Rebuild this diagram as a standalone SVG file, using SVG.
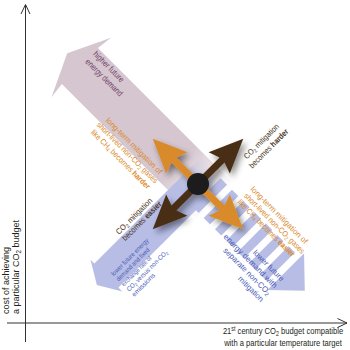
<svg xmlns="http://www.w3.org/2000/svg" width="350" height="350" viewBox="0 0 350 350">
<style>
.t{font-family:"Liberation Sans",Arial,sans-serif;}
.or{fill:#d98a2b;font-size:8px}
.bl{fill:#4a5cb8;font-size:8px}
.bls{fill:#4a5cb8;font-size:6.5px}
.br{fill:#4a3320;font-size:8px}
.pk{fill:#6e4066;font-size:8.5px}
.ax{fill:#231f20;font-size:9.5px}
.b{font-weight:bold}
.sub{font-size:70%}
.axis{stroke:#333;stroke-width:1;fill:none}
</style>
<defs>
<filter id="sh" x="-30%" y="-30%" width="160%" height="160%">
<feDropShadow dx="3" dy="4" stdDeviation="3" flood-color="#000" flood-opacity="0.45"/>
</filter>
<linearGradient id="gp" gradientUnits="userSpaceOnUse" x1="-30" y1="0" x2="25" y2="0">
<stop offset="0" stop-color="#d5c6cf" stop-opacity="1"/>
<stop offset="1" stop-color="#d5c6cf" stop-opacity="0"/>
</linearGradient>
<linearGradient id="gb" gradientUnits="userSpaceOnUse" x1="-22" y1="0" x2="15" y2="0">
<stop offset="0" stop-color="#b7bde5" stop-opacity="0"/>
<stop offset="1" stop-color="#b7bde5" stop-opacity="1"/>
</linearGradient>
</defs>

<g id="axes">
<path class="axis" d="M25.5,342 V5 M21,14 L25.5,4.5 L30,14"/>
<path class="axis" d="M7,323 H347 M337.5,318.5 L347,323 L337.5,327.5"/>
</g>

<g id="axis-labels" class="t ax">
<g transform="rotate(-90)">
<text x="-314" y="8.5" style="font-size:9px">cost of achieving</text>
<text x="-314" y="19" style="font-size:9px">a particular CO<tspan class="sub" dy="1.5">2</tspan><tspan dy="-1.5"> budget</tspan></text>
</g>
<g transform="translate(283,0) scale(0.8,1)">
<text x="0" y="334.5" text-anchor="middle">21<tspan class="sub" dy="-3">st</tspan><tspan dy="3"> century CO</tspan><tspan class="sub" dy="1.5">2</tspan><tspan dy="-1.5"> budget compatible</tspan></text>
<text x="0" y="346" text-anchor="middle">with a particular temperature target</text>
</g>
</g>

<g id="pink-arrow" transform="translate(198,184) rotate(45)">
<polygon points="-185,0 -165,-42 -167,-25.5 25,-25.5 25,25.5 -167,25.5 -165,42" fill="url(#gp)"/>
</g>

<g id="blue-arrow" transform="translate(198,184) rotate(135)">
<polygon points="143,0 129.5,-22.5 129.5,-17 -22,-17 -22,17 129.5,17 129.5,22.5" fill="url(#gb)"/>
</g>

<g id="striped-arrow" transform="translate(198,184) rotate(45)" fill="#b7bde5">
<rect x="12" y="-20" width="9" height="40"/>
<rect x="28" y="-20" width="9" height="40"/>
<rect x="44" y="-20" width="9" height="40"/>
<rect x="60" y="-20" width="9" height="40"/>
<rect x="76" y="-20" width="9" height="40"/>
<rect x="92" y="-20" width="9" height="40"/>
<rect x="108" y="-20" width="9" height="40"/>
<polygon points="151,0 124,-26 124,26"/>
</g>

<g id="labels" class="t">
<g transform="rotate(45)">
<text class="pk" x="104" y="-27" textLength="40" lengthAdjust="spacingAndGlyphs">higher future</text>
<text class="pk" x="104" y="-16" textLength="49" lengthAdjust="spacingAndGlyphs">energy demand</text>
<text class="or" x="198" y="11" text-anchor="middle" textLength="76" lengthAdjust="spacingAndGlyphs">long-term mitigation of</text>
<text class="or" x="198" y="20.5" text-anchor="middle" textLength="83" lengthAdjust="spacingAndGlyphs">short-lived non-CO<tspan class="sub" dy="1.5">2</tspan><tspan dy="-1.5"> gases</tspan></text>
<text class="or" x="198" y="30" text-anchor="middle" textLength="80" lengthAdjust="spacingAndGlyphs">like CH<tspan class="sub" dy="1.5">4</tspan><tspan dy="-1.5"> becomes </tspan><tspan class="b">harder</tspan></text>
<text class="or" x="311" y="-42.7" textLength="77" lengthAdjust="spacingAndGlyphs">long-term mitigation of</text>
<text class="or" x="311" y="-33.5" textLength="82" lengthAdjust="spacingAndGlyphs">short-lived non-CO<tspan class="sub" dy="1.5">2</tspan><tspan dy="-1.5"> gases</tspan></text>
<text class="or" x="311" y="-24.3" textLength="77" lengthAdjust="spacingAndGlyphs">like CH<tspan class="sub" dy="1.5">4</tspan><tspan dy="-1.5"> becomes </tspan><tspan class="b">easier</tspan></text>
<text class="bl" x="398" y="0.5" text-anchor="end" textLength="40.5" lengthAdjust="spacingAndGlyphs">lower future</text>
<text class="bl" x="398" y="10.2" text-anchor="end" textLength="72.5" lengthAdjust="spacingAndGlyphs">energy demand with</text>
<text class="bl" x="398" y="19.9" text-anchor="end" textLength="63" lengthAdjust="spacingAndGlyphs">separate non-CO<tspan class="sub" dy="1.5">2</tspan></text>
<text class="bl" x="398" y="29.5" text-anchor="end" textLength="32.5" lengthAdjust="spacingAndGlyphs">mitigation</text>
</g>
<g transform="rotate(-45)">
<text class="br" x="85" y="287.4" text-anchor="middle" textLength="46" lengthAdjust="spacingAndGlyphs">CO<tspan class="sub" dy="1.5">2</tspan><tspan dy="-1.5"> mitigation</tspan></text>
<text class="br" x="85" y="297.7" text-anchor="middle" textLength="52" lengthAdjust="spacingAndGlyphs">becomes <tspan class="b">harder</tspan></text>
<text class="br" x="-82" y="250.3" textLength="48" lengthAdjust="spacingAndGlyphs">CO<tspan class="sub" dy="1.5">2</tspan><tspan dy="-1.5"> mitigation</tspan></text>
<text class="br" x="-82" y="259.3" textLength="52" lengthAdjust="spacingAndGlyphs">becomes <tspan class="b">easier</tspan></text>
<text class="bls" x="-115" y="275.8" textLength="50" lengthAdjust="spacingAndGlyphs">lower future energy</text>
<text class="bls" x="-115" y="283.1" textLength="44" lengthAdjust="spacingAndGlyphs">demand and fixed</text>
<text class="bls" x="-115" y="290.4" textLength="39.5" lengthAdjust="spacingAndGlyphs">exchange rate of</text>
<text class="bls" x="-115" y="297.7" textLength="55" lengthAdjust="spacingAndGlyphs">CO<tspan class="sub" dy="1.5">2</tspan><tspan dy="-1.5"> versus non-CO</tspan><tspan class="sub" dy="1.5">2</tspan></text>
<text class="bls" x="-115" y="305" textLength="30" lengthAdjust="spacingAndGlyphs">emissions</text>
</g>
</g>

<g id="connectors" filter="url(#sh)">
<g id="brown-arrow" transform="translate(198,184) rotate(-45)">
<polygon points="-64,0 -30,-15 -34,-3.5 34,-3.5 30,-15 64,0 30,15 34,3.5 -34,3.5 -30,15" fill="#4a2f16"/>
</g>
<g id="orange-arrow" transform="translate(198,184) rotate(45)">
<polygon points="-64,0 -30,-15 -34,-3.5 34,-3.5 30,-15 64,0 30,15 34,3.5 -34,3.5 -30,15" fill="#d98a2b"/>
</g>
<circle id="center-dot" cx="198" cy="184" r="11" fill="#1c1a1a"/>
</g>
</svg>
